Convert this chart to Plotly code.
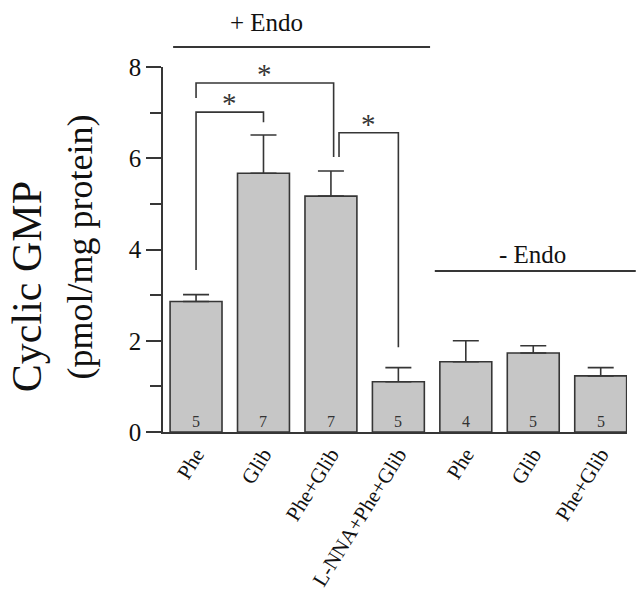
import plotly.graph_objects as go

# ---- data ----
categories = ["Phe", "Glib", "Phe+Glib", "L-NNA+Phe+Glib", "Phe", "Glib", "Phe+Glib"]
values = [2.86, 5.67, 5.17, 1.10, 1.54, 1.73, 1.23]
err_top = [3.01, 6.51, 5.72, 1.41, 2.00, 1.89, 1.41]
counts = [5, 7, 7, 5, 4, 5, 5]

y_ticks = [0, 2, 4, 6, 8]

# significance brackets (bar index pairs, levels in data units)
br_left = [0, 0, 2]
br_right = [1, 2, 3]
br_left_off = [0.0, 0.0, 0.12]
br_right_off = [0.0, 0.04, 0.0]
br_top = [7.01, 7.65, 6.56]
br_left_bottom = [3.55, 7.32, 6.03]
br_right_bottom = [6.79, 6.03, 1.86]
br_label = ["*", "*", "*"]

# group labels
groups = ["+ Endo", "- Endo"]
group_start = [-0.34, 3.54]
group_end = [3.47, 6.52]
group_level = [8.44, 3.53]
group_label_x = [1.05, 4.99]
group_label_level = [8.97, 3.88]

XMIN, XMAX = -0.49, 6.39
YMIN, YMAX = 0, 8
LINE = "#363636"
FONT = "Liberation Serif"

xs = list(range(len(categories)))


def px(v):
    return (v - XMIN) / (XMAX - XMIN)


def py(v):
    return (v - YMIN) / (YMAX - YMIN)


fig = go.Figure()
fig.add_trace(go.Bar(
    x=xs, y=values, width=0.77,
    marker=dict(color="#c6c6c6", line=dict(color=LINE, width=1.6)),
    error_y=dict(type="data", symmetric=False,
                 array=[e - v for e, v in zip(err_top, values)],
                 arrayminus=[0] * len(values),
                 color=LINE, thickness=1.6, width=13),
    hoverinfo="skip",
))

shapes = []
annotations = []

# brackets
for i in range(len(br_left)):
    xl = br_left[i] + br_left_off[i]
    xr = br_right[i] + br_right_off[i]
    path = (f"M {xl} {br_left_bottom[i]} L {xl} {br_top[i]} "
            f"L {xr} {br_top[i]} L {xr} {br_right_bottom[i]}")
    shapes.append(dict(type="path", xref="x", yref="y", path=path,
                       line=dict(color=LINE, width=1.6)))
    annotations.append(dict(x=(xl + xr) / 2, y=br_top[i], xref="x", yref="y",
                            text=br_label[i], showarrow=False,
                            yanchor="bottom", yshift=-9,
                            font=dict(family=FONT, size=29, color=LINE)))

# group lines and labels
for i in range(len(groups)):
    shapes.append(dict(type="line", xref="paper", yref="paper",
                       x0=px(group_start[i]), x1=px(group_end[i]),
                       y0=py(group_level[i]), y1=py(group_level[i]),
                       line=dict(color=LINE, width=2)))
    annotations.append(dict(x=px(group_label_x[i]), y=py(group_label_level[i]),
                            xref="paper", yref="paper", text=groups[i],
                            showarrow=False, xanchor="center", yanchor="middle",
                            font=dict(family=FONT, size=25, color="#111111")))

# counts inside bars
for i in xs:
    annotations.append(dict(x=i, y=0, xref="x", yref="y", text=str(counts[i]),
                            showarrow=False, yanchor="middle", yshift=11,
                            font=dict(family=FONT, size=16, color="#333333")))

# y axis title (two lines)
annotations.append(dict(x=-0.293, y=0.397, xref="paper", yref="paper",
                        text="Cyclic GMP", textangle=-90, showarrow=False,
                        xanchor="center", yanchor="middle",
                        font=dict(family=FONT, size=42, color="#111111")))
annotations.append(dict(x=-0.18, y=0.507, xref="paper", yref="paper",
                        text="(pmol/mg protein)", textangle=-90, showarrow=False,
                        xanchor="center", yanchor="middle",
                        font=dict(family=FONT, size=36, color="#111111")))

fig.update_layout(
    width=636, height=599,
    margin=dict(l=163, r=9, t=67, b=167),
    plot_bgcolor="white", paper_bgcolor="white",
    showlegend=False,
    shapes=shapes, annotations=annotations,
    xaxis=dict(range=[XMIN, XMAX], tickvals=xs, ticktext=categories,
               tickangle=-58, ticks="", showgrid=False, zeroline=False,
               showline=True, linecolor=LINE, linewidth=1.6, automargin=False,
               tickfont=dict(family=FONT, size=21, color="#111111")),
    yaxis=dict(range=[YMIN, YMAX], tickvals=y_ticks, ticks="outside",
               ticklen=15, tickwidth=1.6, tickcolor=LINE,
               minor=dict(dtick=1, ticks="outside", ticklen=11,
                          tickwidth=1.6, tickcolor=LINE),
               showgrid=False, zeroline=False, showline=True, automargin=False,
               linecolor=LINE, linewidth=1.6,
               tickfont=dict(family=FONT, size=25, color="#111111")),
)

fig.write_html("out.html")
